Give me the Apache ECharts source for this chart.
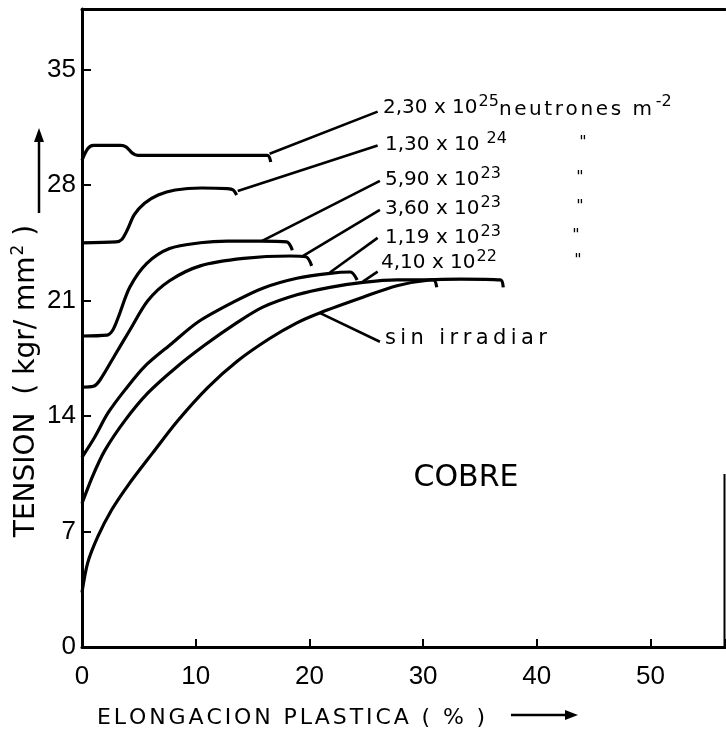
<!DOCTYPE html>
<html><head><meta charset="utf-8">
<script src="https://cdn.jsdelivr.net/npm/echarts@6/dist/echarts.min.js"></script>
<style>html,body{margin:0;padding:0;background:#fff}#c{width:726px;height:735px}</style>
</head><body><div id="c"></div>
<script>
// ---- data (x: elongación plástica %, y: tensión kgr/mm2) ----
const xTickValues = [0, 10, 20, 30, 40, 50];
const yTickValues = [0, 7, 14, 21, 28, 35];

const curveNames = ['2,30 x 10^25', '1,30 x 10^24', '5,90 x 10^23', '3,60 x 10^23', '1,19 x 10^23', '4,10 x 10^22', 'sin irradiar'];
const curve2_30e25 = [[0,29.5],[0.5,30.2],[1.0,30.4],[3.4,30.4],[3.9,30.3],[4.4,29.95],[4.9,29.8],[10,29.8],[16.3,29.8],[16.6,29.4]];
const curve1_30e24 = [[0,24.5],[3.0,24.55],[3.5,24.7],[4.0,25.3],[4.6,26.2],[5.5,26.9],[6.7,27.4],[8.2,27.7],[10.5,27.82],[12.8,27.78],[13.3,27.7],[13.6,27.4]];
const curve5_90e23 = [[0,18.85],[2.2,18.9],[2.7,19.2],[3.2,20.0],[4.2,21.8],[5.7,23.25],[7.7,24.15],[10.4,24.5],[12.8,24.6],[15.7,24.6],[18.0,24.55],[18.5,24.05]];
const curve3_60e23 = [[0,15.75],[1.0,15.8],[1.6,16.2],[2.9,17.7],[4.2,19.2],[5.8,21.0],[7.7,22.2],[10.4,23.1],[14.2,23.55],[18.3,23.7],[19.7,23.65],[20.2,23.1]];
const curve1_19e23 = [[0,11.5],[1.1,12.7],[2.3,14.2],[3.8,15.6],[5.5,17.0],[7.9,18.4],[10.2,19.7],[13.3,20.9],[15.9,21.75],[18.9,22.35],[21.8,22.65],[23.6,22.73],[24.2,22.25]];
const curve4_10e22 = [[0,8.7],[0.9,10.3],[2.0,11.9],[3.8,13.75],[5.8,15.4],[8.2,16.9],[10.8,18.3],[13.5,19.6],[15.9,20.6],[18.9,21.35],[21.8,21.8],[24.7,22.1],[27.7,22.25],[30.9,22.25],[31.2,21.8]];
const curveSinIrradiar = [[0,3.3],[0.5,5.1],[1.4,6.7],[2.6,8.3],[4.05,9.8],[6.2,11.75],[8.4,13.7],[11.1,15.75],[13.7,17.35],[16.5,18.7],[18.9,19.65],[20.9,20.25],[24.7,21.2],[27.7,21.9],[30.6,22.25],[33.3,22.3],[36.8,22.25],[37.05,21.8]];

// leader lines from curves to their labels (annotation, data coords)
const leader1 = [[16.5,29.9],[26.0,32.45]];
const leader2 = [[13.7,27.64],[26.0,30.4]];
const leader3 = [[15.8,24.6],[26.2,28.25]];
const leader4 = [[19.3,23.65],[26.2,26.5]];
const leader5 = [[21.8,22.7],[26.0,24.8]];
const leader6 = [[24.7,22.15],[26.0,22.75]];
const leaderSin = [[20.9,20.25],[26.2,18.5]];

// label texts
const labelMantissas = ['2,30 x 10', '1,30 x 10', '5,90 x 10', '3,60 x 10', '1,19 x 10', '4,10 x 10'];
const labelExponents = ['25', '24', '23', '23', '23', '22'];
const unitText = 'neutrones m';
const unitExp = '-2';
const dittoMark = '"';
const sinLabel = 'sin irradiar';
const materialLabel = 'COBRE';
const xTitle = 'ELONGACION PLASTICA ( % )';
const yTitleMain = 'TENSION  ( kgr/ mm';
const yTitleExp = '2';
const yTitleEnd = ' )';

// ---- chart ----
const FONT = '"DejaVu Sans", "Noto Sans", sans-serif';
const NARROW = '"Liberation Sans Narrow", "Liberation Sans", sans-serif';
function spaced(s, key) { return s.split('').map(c => '{' + key + '|' + c + '}').join(''); }

const chart = echarts.init(document.getElementById('c'), null, {renderer: 'canvas'});
const curves = [curve2_30e25, curve1_30e24, curve5_90e23, curve3_60e23, curve1_19e23, curve4_10e22, curveSinIrradiar];
const leaders = [leader1, leader2, leader3, leader4, leader5, leader6, leaderSin];

const series = [];
curves.forEach((d, i) => series.push({
  name: curveNames[i], type: 'line', data: d, smooth: 0.3, symbol: 'none',
  lineStyle: {color: '#000', width: 3.2}, animation: false, z: 3
}));
leaders.forEach(d => series.push({
  type: 'line', data: d, symbol: 'none', lineStyle: {color: '#000', width: 2.6}, animation: false, z: 3
}));

const labelY = [108, 145, 180, 209, 238, 263];
const labelX = [383, 385, 385, 385, 385, 381];
const dittoX = [583, 580, 580, 576, 578];
const graphics = [];
labelMantissas.forEach((m, i) => {
  let txt = '{n|' + m + '}{' + (i === 1 ? 'e2' : 'e') + '|' + labelExponents[i] + '}';
  if (i === 0) txt += spaced(unitText, 'w') + '{e|' + unitExp + '}';
  graphics.push({
    type: 'text', x: labelX[i], y: labelY[i], z: 10,
    style: {
      text: txt, fill: '#000', verticalAlign: 'middle', align: 'left',
      rich: {
        n: {fontFamily: FONT, fontSize: 20, fill: '#000', lineHeight: 24},
        e: {fontFamily: FONT, fontSize: 16, fill: '#000', padding: [0, 0, 13, 1]},
        e2: {fontFamily: FONT, fontSize: 16, fill: '#000', padding: [0, 0, 13, 7]},
        w: {fontFamily: FONT, fontSize: 20, fill: '#000', padding: [4, 2.6, 0, 0]}
      }
    }
  });
  if (i > 0) graphics.push({
    type: 'text', x: dittoX[i - 1], y: labelY[i] - 2, z: 10,
    style: {text: dittoMark, fontFamily: FONT, fontSize: 16, fill: '#000', align: 'center', verticalAlign: 'middle'}
  });
});
graphics.push({
  type: 'text', x: 385, y: 339, z: 10,
  style: {text: spaced(sinLabel, 'w'), verticalAlign: 'middle', align: 'left',
    rich: {w: {fontFamily: FONT, fontSize: 21, fill: '#000', padding: [0, 4.4, 0, 0]}}}
});
graphics.push({
  type: 'text', x: 466, y: 478, z: 10,
  style: {text: materialLabel, fontFamily: FONT, fontSize: 30, fill: '#000', align: 'center', verticalAlign: 'middle'}
});
graphics.push({
  type: 'text', x: 97, y: 718, z: 10,
  style: {text: spaced(xTitle, 'w'), verticalAlign: 'middle', align: 'left',
    rich: {w: {fontFamily: FONT, fontSize: 22, fill: '#000', padding: [0, 2.9, 0, 0]}}}
});
graphics.push({type: 'line', shape: {x1: 511, y1: 715, x2: 568, y2: 715}, style: {stroke: '#000', lineWidth: 2.5}, z: 10});
graphics.push({type: 'polygon', shape: {points: [[565, 710], [578, 715], [565, 720]]}, style: {fill: '#000'}, z: 10});
graphics.push({
  type: 'text', x: 27, y: 381, rotation: Math.PI / 2, z: 10,
  style: {text: '{a|' + yTitleMain + '}{s|' + yTitleExp + '}{a|' + yTitleEnd + '}', align: 'center', verticalAlign: 'middle',
    rich: {a: {fontFamily: FONT, fontSize: 28, fill: '#000', lineHeight: 32}, s: {fontFamily: FONT, fontSize: 17, fill: '#000', padding: [0, 0, 16, 1]}}}
});
graphics.push({type: 'line', shape: {x1: 39, y1: 213, x2: 39, y2: 138}, style: {stroke: '#000', lineWidth: 2.5}, z: 10});
graphics.push({type: 'polygon', shape: {points: [[34, 142], [39, 128], [44, 142]]}, style: {fill: '#000'}, z: 10});
graphics.push({type: 'line', shape: {x1: 724.5, y1: 474, x2: 724.5, y2: 647}, style: {stroke: '#000', lineWidth: 2}, z: 10});

chart.setOption({
  animation: false,
  backgroundColor: '#fff',
  grid: {left: 82, right: 1, top: 9, bottom: 88, containLabel: false, outerBoundsMode: 'none'},
  xAxis: [{
    type: 'value', min: 0, max: 56.55, interval: 10, position: 'bottom',
    axisLine: {show: true, onZero: false, lineStyle: {color: '#000', width: 3}},
    axisTick: {show: true, inside: true, length: 8, lineStyle: {color: '#000', width: 2}},
    axisLabel: {margin: 17, color: '#000', fontFamily: NARROW, fontSize: 26,
      formatter: v => xTickValues.includes(v) ? String(v) : ''},
    splitLine: {show: false}
  }, {
    type: 'value', min: 0, max: 56.55, position: 'top',
    axisLine: {show: true, onZero: false, lineStyle: {color: '#000', width: 3}},
    axisTick: {show: false}, axisLabel: {show: false}, splitLine: {show: false}
  }],
  yAxis: {
    type: 'value', min: 0, max: 38.67, interval: 7,
    axisLine: {show: true, onZero: false, lineStyle: {color: '#000', width: 3}},
    axisTick: {show: true, inside: true, length: 9, lineStyle: {color: '#000', width: 2}},
    axisLabel: {margin: 6, color: '#000', fontFamily: NARROW, fontSize: 26,
      formatter: v => yTickValues.includes(v) ? String(v) : ''},
    splitLine: {show: false}
  },
  series: series,
  graphic: graphics
});
</script>
</body></html>
